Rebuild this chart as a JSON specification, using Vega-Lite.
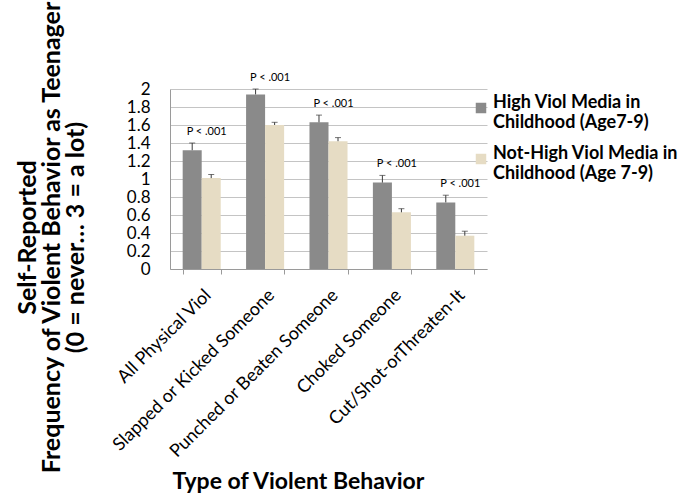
{
  "$schema": "https://vega.github.io/schema/vega-lite/v6.json",
  "width": 317,
  "height": 180,
  "autosize": {"type": "none"},
  "padding": {"left": 170, "top": 89, "right": 204, "bottom": 230},
  "background": "white",
  "config": {
    "font": "Lato",
    "view": {"stroke": null},
    "axisY": {
      "tickCount": 10,
      "format": "~g",
      "labelOverlap": false,
      "labelFontSize": 17,
      "labelColor": "black",
      "labelPadding": 20,
      "ticks": false,
      "domainColor": "#9a9a9a",
      "gridColor": "#c4c4c4"
    }
  },
  "data": {
    "values": [
      {"behavior": "All Physical Viol", "group": "High Viol Media in|Childhood (Age7-9)", "value": 1.32, "upper": 1.40, "p": "P < .001"},
      {"behavior": "All Physical Viol", "group": "Not-High Viol Media in|Childhood (Age 7-9)", "value": 1.01, "upper": 1.05, "p": ""},
      {"behavior": "Slapped or Kicked Someone", "group": "High Viol Media in|Childhood (Age7-9)", "value": 1.94, "upper": 2.00, "p": "P < .001"},
      {"behavior": "Slapped or Kicked Someone", "group": "Not-High Viol Media in|Childhood (Age 7-9)", "value": 1.60, "upper": 1.63, "p": ""},
      {"behavior": "Punched or Beaten Someone", "group": "High Viol Media in|Childhood (Age7-9)", "value": 1.63, "upper": 1.71, "p": "P < .001"},
      {"behavior": "Punched or Beaten Someone", "group": "Not-High Viol Media in|Childhood (Age 7-9)", "value": 1.42, "upper": 1.46, "p": ""},
      {"behavior": "Choked Someone", "group": "High Viol Media in|Childhood (Age7-9)", "value": 0.96, "upper": 1.04, "p": "P < .001"},
      {"behavior": "Choked Someone", "group": "Not-High Viol Media in|Childhood (Age 7-9)", "value": 0.63, "upper": 0.67, "p": ""},
      {"behavior": "Cut/Shot-orThreaten-It", "group": "High Viol Media in|Childhood (Age7-9)", "value": 0.74, "upper": 0.82, "p": "P < .001"},
      {"behavior": "Cut/Shot-orThreaten-It", "group": "Not-High Viol Media in|Childhood (Age 7-9)", "value": 0.37, "upper": 0.42, "p": ""}
    ]
  },
  "encoding": {
    "x": {
      "field": "behavior",
      "type": "nominal",
      "sort": null,
      "scale": {"paddingInner": 0.4, "paddingOuter": 0.2},
      "axis": {
        "title": "Type of Violent Behavior",
        "titleFont": "Lato",
        "titleFontSize": 23,
        "titleFontWeight": "bold",
        "titleColor": "black",
        "titleX": 128,
        "titleY": 212,
        "titleAlign": "center",
        "titleBaseline": "middle",
        "labelAngle": -45,
        "labelAlign": "right",
        "labelBaseline": "top",
        "labelPadding": 12,
        "labelFontSize": 18,
        "labelColor": "black",
        "labelLimit": 0,
        "tickBand": "extent",
        "tickSize": 5,
        "tickColor": "#9a9a9a",
        "domainColor": "#9a9a9a",
        "grid": false
      }
    }
  },
  "layer": [
    {
      "mark": {"type": "bar"},
      "encoding": {
        "xOffset": {"field": "group", "type": "nominal", "sort": "ascending"},
        "y": {
          "field": "value",
          "type": "quantitative",
          "scale": {"domain": [0, 2], "nice": false},
          "axis": {
            "title": ["Self-Reported", "Frequency of Violent Behavior as Teenager", "(0 = never… 3 = a lot)"],
            "titleFont": "Lato",
            "titleFontSize": 25,
            "titleFontWeight": "bold",
            "titleColor": "black",
            "titleLineHeight": 24,
            "titleAngle": -90,
            "titleX": -143,
            "titleY": 148,
            "titleAlign": "center",
            "titleBaseline": "middle"
          }
        },
        "color": {
          "field": "group",
          "type": "nominal",
          "scale": {
            "domain": ["High Viol Media in|Childhood (Age7-9)", "Not-High Viol Media in|Childhood (Age 7-9)"],
            "range": ["#8a8a8a", "#e6dcc4"]
          },
          "legend": {
            "title": null,
            "orient": "none",
            "legendX": 302,
            "legendY": 10,
            "padding": 0,
            "symbolType": "square",
            "symbolSize": 110,
            "symbolStrokeWidth": 0,
            "labelExpr": "split(datum.label, '|')",
            "labelFontSize": 18,
            "labelFontWeight": "bold",
            "labelColor": "black",
            "labelLineHeight": 22,
            "labelBaseline": "alphabetic",
            "labelLimit": 0,
            "labelOffset": 3,
            "rowPadding": 13
          }
        }
      }
    },
    {
      "mark": {"type": "rule", "color": "#3a3a3a", "strokeWidth": 1},
      "encoding": {
        "xOffset": {"field": "group", "type": "nominal", "sort": "ascending"},
        "y": {"field": "value", "type": "quantitative"},
        "y2": {"field": "upper"}
      }
    },
    {
      "mark": {"type": "tick", "color": "#3a3a3a", "thickness": 1, "size": 6},
      "encoding": {
        "xOffset": {"field": "group", "type": "nominal", "sort": "ascending"},
        "y": {"field": "upper", "type": "quantitative"}
      }
    },
    {
      "mark": {"type": "text", "fontSize": 11, "color": "black", "dx": 5, "dy": -11, "baseline": "middle"},
      "encoding": {
        "y": {"field": "upper", "type": "quantitative"},
        "text": {"field": "p"}
      }
    }
  ]
}
